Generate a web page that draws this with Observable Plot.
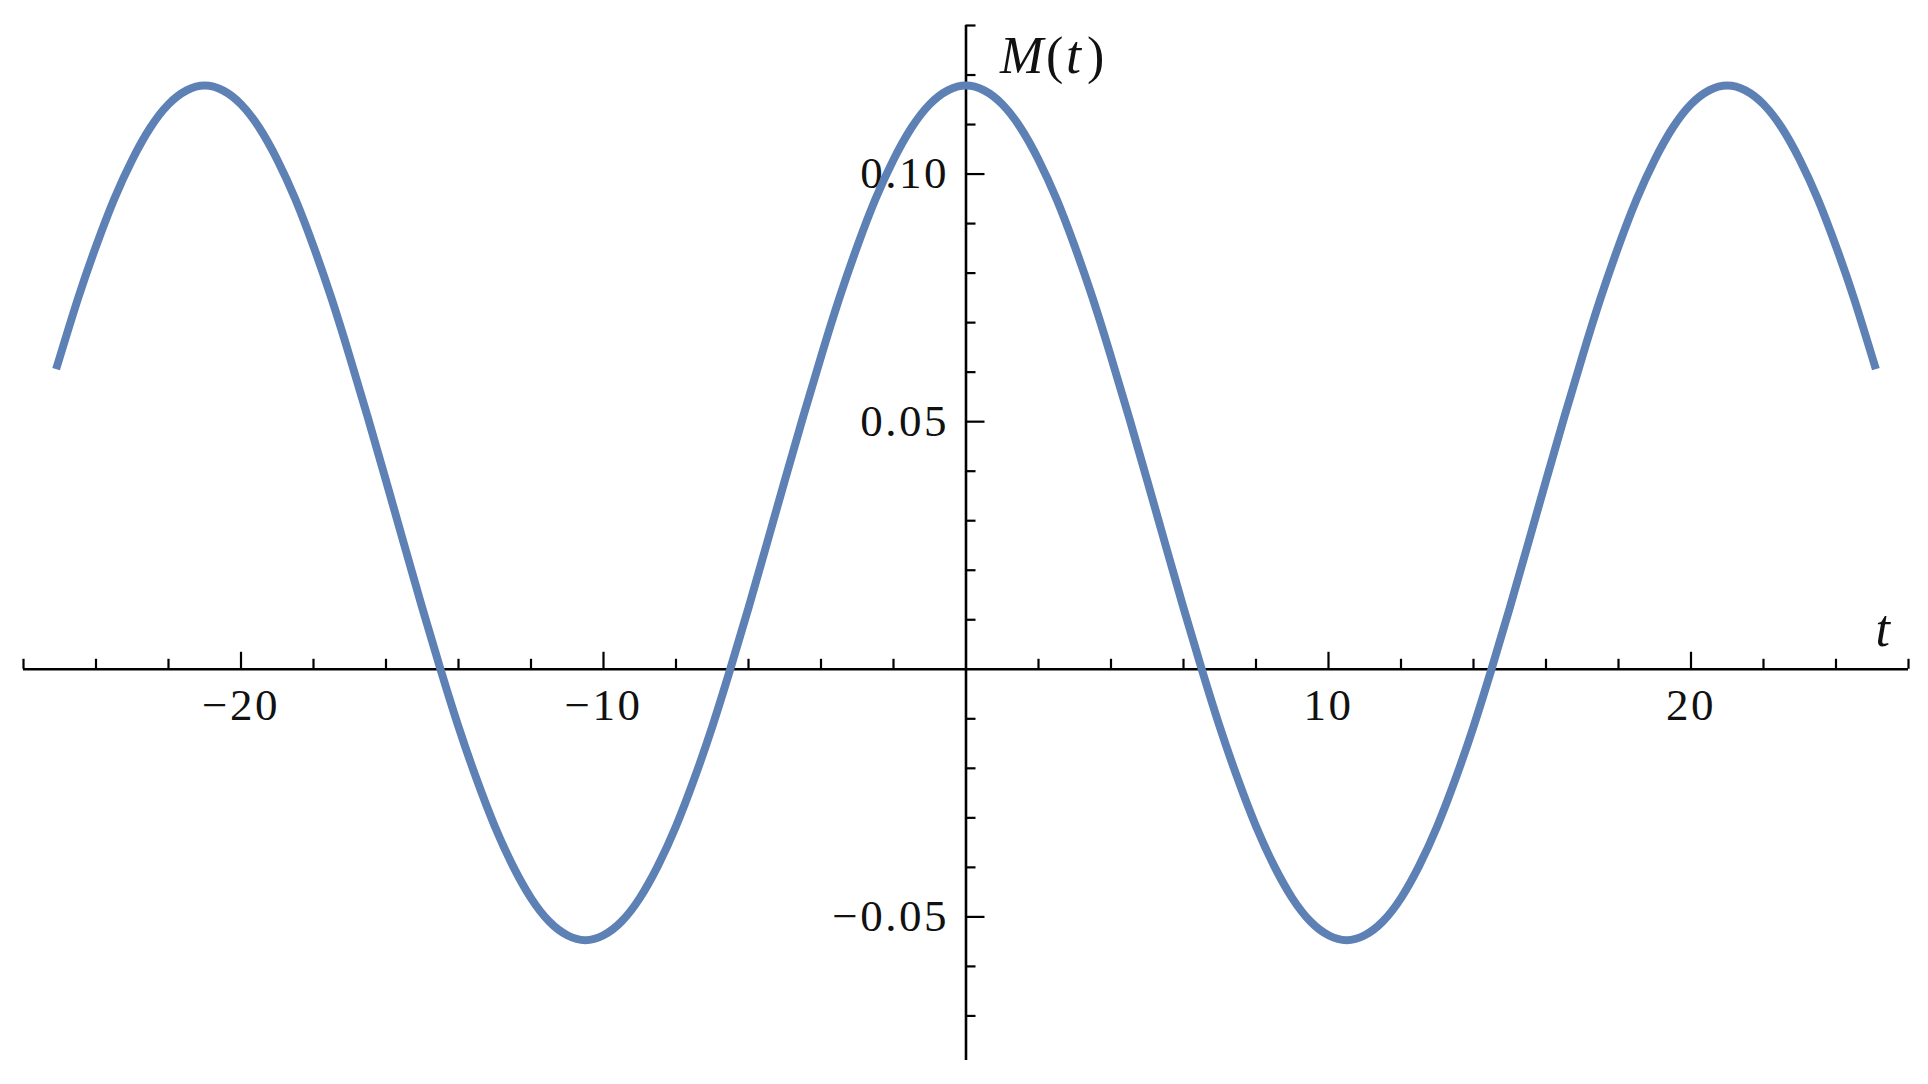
<!DOCTYPE html>
<html>
<head>
<meta charset="utf-8">
<script src="https://cdn.jsdelivr.net/npm/d3@7"></script>
<script src="https://cdn.jsdelivr.net/npm/@observablehq/plot@0.6"></script>
<style>
  html, body { margin: 0; padding: 0; background: #ffffff; }
  #chart svg { display: block; }
</style>
</head>
<body>
<div id="chart"></div>
<script>
// ---- Data ----
const tValues = [
  -25.1, -24.5, -24, -23.5, -23, -22.5, -22, -21.5, -21, -20.5, -20, -19.5, -19, -18.5, -18, -17.5, -17,
  -16.5, -16, -15.5, -15, -14.5, -14, -13.5, -13, -12.5, -12, -11.5, -11, -10.5, -10, -9.5, -9, -8.5, -8,
  -7.5, -7, -6.5, -6, -5.5, -5, -4.5, -4, -3.5, -3, -2.5, -2, -1.5, -1, -0.5, 0,
  0.5, 1, 1.5, 2, 2.5, 3, 3.5, 4, 4.5, 5, 5.5, 6, 6.5, 7, 7.5, 8, 8.5, 9, 9.5, 10,
  10.5, 11, 11.5, 12, 12.5, 13, 13.5, 14, 14.5, 15, 15.5, 16, 16.5, 17, 17.5, 18,
  18.5, 19, 19.5, 20, 20.5, 21, 21.5, 22, 22.5, 23, 23.5, 24, 24.5, 25.1
];
const mValues = [
  0.0606, 0.0748, 0.0854, 0.0949, 0.1029, 0.1094, 0.1141, 0.1169, 0.1179, 0.1169, 0.1141, 0.1094, 0.1029, 0.0949, 0.0854, 0.0748, 0.0631,
  0.0508, 0.0381, 0.0252, 0.0124, 0.0001, -0.0116, -0.0222, -0.0317, -0.0397, -0.0462, -0.0509, -0.0537, -0.0547, -0.0537, -0.0509, -0.0462, -0.0397, -0.0317,
  -0.0222, -0.0116, 0.0001, 0.0124, 0.0252, 0.0381, 0.0508, 0.0631, 0.0748, 0.0854, 0.0949, 0.1029, 0.1094, 0.1141, 0.1169, 0.1179,
  0.1169, 0.1141, 0.1094, 0.1029, 0.0949, 0.0854, 0.0748, 0.0631, 0.0508, 0.0381, 0.0252, 0.0124, 0.0001, -0.0116, -0.0222, -0.0317, -0.0397, -0.0462, -0.0509, -0.0537,
  -0.0547, -0.0537, -0.0509, -0.0462, -0.0397, -0.0317, -0.0222, -0.0116, 0.0001, 0.0124, 0.0252, 0.0381, 0.0508, 0.0631, 0.0748, 0.0854,
  0.0949, 0.1029, 0.1094, 0.1141, 0.1169, 0.1179, 0.1169, 0.1141, 0.1094, 0.1029, 0.0949, 0.0854, 0.0748, 0.0606
];

const xDomain = [-26, 26];
const yDomain = [-0.079, 0.13];

const xMajorTicks = [-20, -10, 10, 20];
const xTickLabels = ["\u221220", "\u221210", "10", "20"];
const xMinorTicks = [-26, -24, -22, -18, -16, -14, -12, -8, -6, -4, -2, 2, 4, 6, 8, 12, 14, 16, 18, 22, 24, 26];

const yMajorTicks = [-0.05, 0.05, 0.10];
const yTickLabels = ["\u22120.05", "0.05", "0.10"];
const yMinorTicks = [-0.07, -0.06, -0.04, -0.03, -0.02, -0.01, 0.01, 0.02, 0.03, 0.04, 0.06, 0.07, 0.08, 0.09, 0.11, 0.12, 0.13];

const xAxisTitle = "t";
const yAxisTitleParts = ["M", "(", "t", ")"];

// ---- Build table ----
const curve = tValues.map((t, i) => ({t, m: mValues[i]}));

const serif = "'Liberation Serif', 'Times New Roman', 'DejaVu Serif', serif";
const lineColor = "#5e81b5";
const ink = "#111111";

const chart = Plot.plot({
  width: 1928,
  height: 1084,
  marginLeft: 23,
  marginRight: 20,
  marginTop: 25,
  marginBottom: 24,
  x: {domain: xDomain, axis: null},
  y: {domain: yDomain, axis: null},
  style: {background: "#ffffff", overflow: "visible"},
  marks: [
    // axes through origin
    Plot.ruleY([0], {x1: xDomain[0], x2: xDomain[1], stroke: "#000", strokeWidth: 2.6}),
    Plot.ruleX([0], {y1: yDomain[0], y2: yDomain[1], stroke: "#000", strokeWidth: 2.6}),
    // x ticks (pointing up)
    Plot.ruleX(xMinorTicks, {x: d => d, y1: 0, y2: 0, insetBottom: 10, stroke: "#000", strokeWidth: 2.2}),
    Plot.ruleX(xMajorTicks, {x: d => d, y1: 0, y2: 0, insetBottom: 17, stroke: "#000", strokeWidth: 2.2}),
    // y ticks (pointing right)
    Plot.ruleY(yMinorTicks, {y: d => d, x1: 0, x2: 0, insetRight: -10, stroke: "#000", strokeWidth: 2.2}),
    Plot.ruleY(yMajorTicks, {y: d => d, x1: 0, x2: 0, insetRight: -19, stroke: "#000", strokeWidth: 2.2}),
    // tick labels
    Plot.text(xMajorTicks, {
      x: d => d, y: 0, text: (d, i) => xTickLabels[i],
      dy: 36, textAnchor: "middle", lineAnchor: "middle",
      fontSize: 45, fontFamily: serif, fill: ink
    }),
    Plot.text(yMajorTicks, {
      x: 0, y: d => d, text: (d, i) => yTickLabels[i],
      dx: -17, textAnchor: "end", lineAnchor: "middle",
      fontSize: 45, fontFamily: serif, fill: ink
    }),
    // curve
    Plot.line(curve, {
      x: "t", y: "m", curve: "natural",
      stroke: lineColor, strokeWidth: 8, strokeLinecap: "butt", strokeLinejoin: "round"
    }),
    // axis titles
    Plot.text([xAxisTitle], {
      x: xDomain[1], y: 0, text: d => d, dx: -33, dy: -23,
      textAnchor: "start", lineAnchor: "bottom",
      fontSize: 52, fontStyle: "italic", fontFamily: serif, fill: ink
    }),
    Plot.text([yAxisTitleParts[0]], {
      x: 0, y: yDomain[1], text: d => d, dx: 34, dy: 47,
      textAnchor: "start", lineAnchor: "bottom",
      fontSize: 52, fontStyle: "italic", fontFamily: serif, fill: ink
    }),
    Plot.text([yAxisTitleParts[1]], {
      x: 0, y: yDomain[1], text: d => d, dx: 80, dy: 47,
      textAnchor: "start", lineAnchor: "bottom",
      fontSize: 52, fontFamily: serif, fill: ink
    }),
    Plot.text([yAxisTitleParts[2]], {
      x: 0, y: yDomain[1], text: d => d, dx: 100, dy: 47,
      textAnchor: "start", lineAnchor: "bottom",
      fontSize: 54, fontStyle: "italic", fontFamily: serif, fill: ink
    }),
    Plot.text([yAxisTitleParts[3]], {
      x: 0, y: yDomain[1], text: d => d, dx: 121, dy: 47,
      textAnchor: "start", lineAnchor: "bottom",
      fontSize: 52, fontFamily: serif, fill: ink
    })
  ]
});

d3.select(chart).style("letter-spacing", "2.5px");
document.getElementById("chart").appendChild(chart);
</script>
</body>
</html>
